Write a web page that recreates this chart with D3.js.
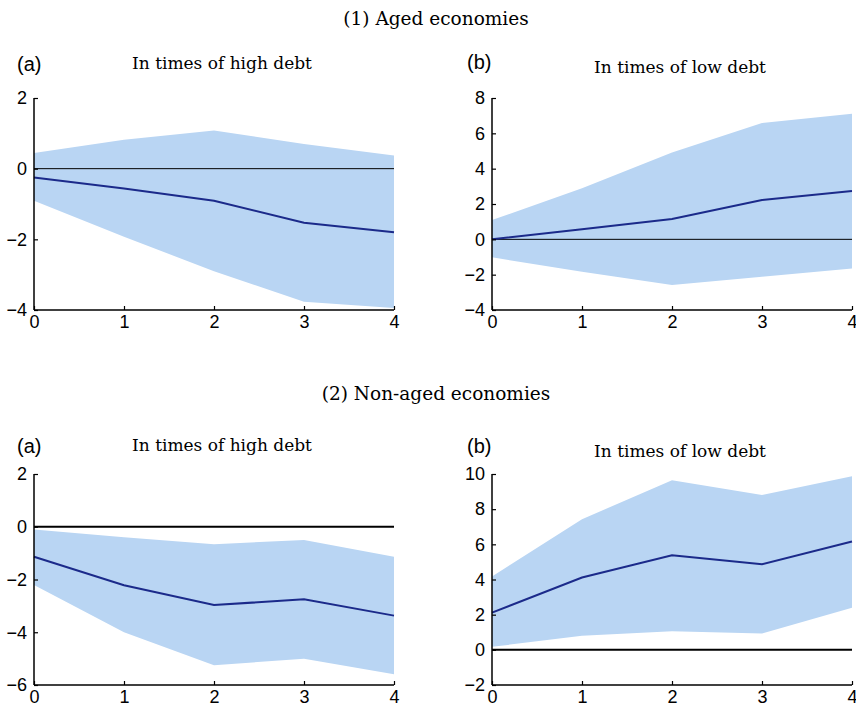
<!DOCTYPE html>
<html>
<head>
<meta charset="utf-8">
<script src="https://cdn.jsdelivr.net/npm/d3@7"></script>
<style>
  body { margin: 0; background: #fff; }
  .serif { font-family: "DejaVu Serif", serif; }
  .tick text { font-family: "Liberation Sans", Arial, sans-serif; font-size: 18px; }
</style>
</head>
<body>
<div id="chart"></div>
<script>
// horizons
let horizons = [0, 1, 2, 3, 4];

// aged economies, high debt
let agedHighMean  = [-0.25, -0.56, -0.91, -1.53, -1.80];
let agedHighUpper = [0.44, 0.82, 1.08, 0.70, 0.37];
let agedHighLower = [-0.91, -1.93, -2.90, -3.77, -3.94];

// aged economies, low debt
let agedLowMean  = [0.0, 0.57, 1.15, 2.23, 2.74];
let agedLowUpper = [1.09, 2.89, 4.91, 6.58, 7.11];
let agedLowLower = [-1.02, -1.84, -2.59, -2.12, -1.65];

// non-aged economies, high debt
let nonHighMean  = [-1.14, -2.22, -2.97, -2.75, -3.37];
let nonHighUpper = [-0.10, -0.40, -0.66, -0.50, -1.14];
let nonHighLower = [-2.21, -4.00, -5.25, -5.00, -5.59];

// non-aged economies, low debt
let nonLowMean  = [2.12, 4.11, 5.38, 4.87, 6.16];
let nonLowUpper = [4.17, 7.43, 9.64, 8.81, 9.87];
let nonLowLower = [0.17, 0.80, 1.06, 0.93, 2.39];

let yTicksAgedHigh = [-4, -2, 0, 2];
let yTicksAgedLow  = [-4, -2, 0, 2, 4, 6, 8];
let yTicksNonHigh  = [-6, -4, -2, 0, 2];
let yTicksNonLow   = [-2, 0, 2, 4, 6, 8, 10];

let rowTitles = ["(1) Aged economies", "(2) Non-aged economies"];

const W = 856, H = 708;
const svg = d3.select("#chart").append("svg")
    .attr("width", W)
    .attr("height", H);

const fillColor = "#b9d5f3";
const lineColor = "#1b2a8a";

function panel(opt) {
    let g = svg.append("g");

    let x = d3.scaleLinear().domain([0, 4]).range([opt.left, opt.left + 360]);
    let y = d3.scaleLinear()
        .domain(d3.extent(opt.ticks))
        .range([opt.top + opt.h, opt.top]);

    let rows = horizons.map((h, i) => ({h: h, m: opt.mean[i], lo: opt.lower[i], hi: opt.upper[i]}));

    g.append("path")
        .datum(rows)
        .attr("fill", fillColor)
        .attr("d", d3.area().x(d => x(d.h)).y0(d => y(d.lo)).y1(d => y(d.hi)));

    // zero line
    g.append("line")
        .attr("x1", x(0)).attr("x2", x(4))
        .attr("y1", y(0)).attr("y2", y(0))
        .attr("stroke", "#000")
        .attr("stroke-width", opt.zeroWidth);

    g.append("path")
        .datum(rows)
        .attr("fill", "none")
        .attr("stroke", lineColor)
        .attr("stroke-width", 2)
        .attr("d", d3.line().x(d => x(d.h)).y(d => y(d.m)));

    let fmt = d => d < 0 ? "\u2212" + Math.abs(d) : String(d);

    let xAxis = g.append("g")
        .attr("transform", `translate(0,${opt.top + opt.h})`)
        .call(d3.axisBottom(x).tickValues(horizons).tickSize(-4).tickPadding(5).tickFormat(fmt));
    let yAxis = g.append("g")
        .attr("transform", `translate(${opt.left},0)`)
        .call(d3.axisLeft(y).tickValues(opt.ticks).tickSize(-4).tickPadding(7).tickFormat(fmt));

    [xAxis, yAxis].forEach(a => {
        a.select(".domain").attr("stroke-width", 1.5);
        a.selectAll(".tick line").attr("stroke-width", 1.2);
        a.selectAll(".tick text").attr("fill", "#000");
    });
    // plain domain lines without end caps
    xAxis.select(".domain").attr("d", `M${x(0)},0H${x(4)}`);
    yAxis.select(".domain").attr("d", `M0,${opt.top + opt.h}V${opt.top}`);

    g.append("text")
        .attr("x", opt.labelX).attr("y", opt.labelY)
        .attr("font-family", "Liberation Sans, Arial, sans-serif")
        .attr("font-size", 20)
        .text(opt.label);

    g.append("text")
        .attr("class", "serif")
        .attr("x", opt.left + 188).attr("y", opt.titleY)
        .attr("text-anchor", "middle")
        .attr("font-size", 17)
        .text(opt.title);
}

svg.append("text").attr("class", "serif")
    .attr("x", 436).attr("y", 25).attr("text-anchor", "middle")
    .attr("font-size", 18.5).text(rowTitles[0]);
svg.append("text").attr("class", "serif")
    .attr("x", 436).attr("y", 400).attr("text-anchor", "middle")
    .attr("font-size", 18.5).text(rowTitles[1]);

panel({left: 34, top: 98, h: 212, ticks: yTicksAgedHigh, mean: agedHighMean, upper: agedHighUpper, lower: agedHighLower,
       zeroWidth: 1, label: "(a)", labelX: 17, labelY: 71, title: "In times of high debt", titleY: 69});
panel({left: 492, top: 98, h: 212, ticks: yTicksAgedLow, mean: agedLowMean, upper: agedLowUpper, lower: agedLowLower,
       zeroWidth: 1, label: "(b)", labelX: 467, labelY: 69, title: "In times of low debt", titleY: 73});
panel({left: 34, top: 474, h: 211, ticks: yTicksNonHigh, mean: nonHighMean, upper: nonHighUpper, lower: nonHighLower,
       zeroWidth: 2, label: "(a)", labelX: 17, labelY: 453, title: "In times of high debt", titleY: 451});
panel({left: 492, top: 474, h: 211, ticks: yTicksNonLow, mean: nonLowMean, upper: nonLowUpper, lower: nonLowLower,
       zeroWidth: 2, label: "(b)", labelX: 467, labelY: 453, title: "In times of low debt", titleY: 457});
</script>
</body>
</html>
